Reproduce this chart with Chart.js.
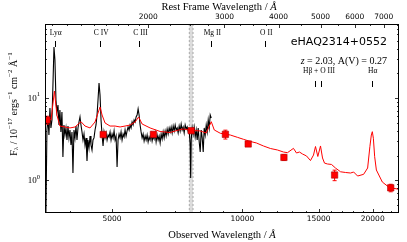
<!DOCTYPE html>
<html><head><meta charset="utf-8">
<script src="https://cdn.jsdelivr.net/npm/chart.js@4/dist/chart.umd.min.js"></script>
<style>html,body{margin:0;padding:0;background:#fff;overflow:hidden}#wrap{width:407px;height:242px}</style>
</head><body><div id="wrap"><canvas id="c" width="407" height="242"></canvas></div>
<script>
const redshift = 2.03;
const objectName = 'eHAQ2314+0552';
const extinctionAV = 0.27;

// observed spectrum (black)
const specWave = [3498,3517,3536,3555,3574,3593,3612,3632,3651,3671,
 3690,3710,3730,3750,3770,3789,3809,3830,3850,3871,
 3892,3913,3934,3955,3976,3997,4018,4040,4061,4083,
 4105,4127,4149,4171,4193,4216,4238,4261,4284,4307,
 4330,4353,4376,4399,4423,4447,4470,4494,4518,4542,
 4567,4591,4616,4640,4665,4690,4715,4741,4766,4791,
 4817,4843,4869,4895,4921,4947,4973,5000,5027,5054,
 5081,5108,5135,5162,5190,5218,5245,5273,5302,5330,
 5358,5387,5416,5445,5474,5503,5532,5562,5592,5622,
 5652,5682,5712,5743,5773,5804,5835,5866,5898,5929,
 5961,5993,6025,6057,6089,6121,6154,6187,6220,6253,
 6287,6320,6354,6388,6422,6457,6491,6526,6561,6596,
 6631,6666,6702,6738,6774,6810,6846,6883,6920,6957,
 6994,7031,7069,7106,7144,7182,7221,7259,7298,7337,
 7376,7416,7455,7495,7535,7575,7595,7616,7657,7698,7739,
 7780,7822,7863,7905,7948,7990,8033,8076,8119,8162,
 8206,8250,8294,8338,8383,8427,8473];
const specFlux = [2.34,0.38,4.10,5.74,3.56,7.60,4.34,5.43,14.5,42.0,
 29.2,9.51,6.79,8.27,4.72,7.18,3.88,6.79,1.92,4.72,
 3.56,4.34,3.10,4.59,3.28,4.10,2.69,3.88,1.23,4.10,
 3.28,4.59,3.10,4.34,5.13,5.90,4.72,3.88,3.10,3.66,
 2.69,3.28,1.72,3.10,2.47,3.46,2.69,2.34,3.10,3.28,
 4.10,4.72,6.24,9.51,15.3,10.9,5.43,3.56,2.62,3.88,
 3.28,3.77,3.10,3.56,3.37,3.88,3.10,3.66,3.28,3.99,
 3.10,3.46,1.45,3.10,3.66,3.28,3.88,3.10,3.66,3.37,
 4.10,3.46,3.99,4.46,4.10,4.72,4.34,5.13,4.72,5.43,
 5.13,5.90,6.24,7.39,6.24,4.72,3.88,3.28,3.66,3.01,
 3.46,3.10,3.56,2.93,3.37,3.10,3.66,3.01,3.46,3.18,
 3.77,2.93,3.56,3.10,3.46,2.85,3.66,3.18,3.88,3.28,
 3.99,3.46,4.22,3.66,4.34,3.88,4.46,3.77,4.59,3.99,
 4.72,4.10,4.34,3.77,4.59,3.99,4.85,4.10,4.46,3.77,
 4.72,4.22,4.46,3.88,4.10,2.69,1.07,3.10,4.34,3.66,4.46,
 3.37,4.10,3.10,4.34,2.93,2.21,4.10,3.28,2.21,4.34,
 3.56,4.72,3.88,5.43,4.34,6.24,5.74];

// model / composite (red)
const modelWave = [3510,3614,3680,3729,3789,3893,3998,4105,4239,4330,
 4447,4567,4640,4691,4741,4817,4947,5080,5218,5358,
 5503,5652,5758,5866,6121,6457,6810,7069,7298,7617,
 7990,8249,8475,8611,8891,9378,9734,10053,10432,10772,
 11182,11606,12049,12441,12710,13121,13333,13546,13771,14062,
 14363,14597,14752,14936,15151,15314,15476,15724,16063,16410,
 16856,17313,17780,18068,18457,19054,19466,19701,19852,19958,
 20068,20208,20391,21049,21618,22360,23025];
const modelFlux = [5.9,5.42,12.2,6.24,4.58,4.46,4.34,4.46,5.17,4.58,
 4.34,5.13,6.6,7.81,6.24,4.99,4.58,4.58,4.46,4.58,
 4.71,5.13,5.90,4.85,4.34,3.93,3.82,4.05,4.22,4.05,
 3.99,3.77,5.17,4.10,3.74,3.56,3.34,3.16,2.97,2.85,
 2.62,2.44,2.34,2.21,2.17,2.45,2.15,2.21,2.09,1.98,
 1.74,2.03,2.58,1.95,2.62,1.87,1.62,1.58,1.56,1.41,
 1.27,1.245,1.227,1.262,1.128,1.183,1.412,2.57,3.56,3.91,
 3.25,1.94,1.335,0.953,0.853,0.799,0.777];

// photometry (red squares)
const photWave = [3536,4770,6230,7617,9136,10314,12472,16330,22010];
const photFlux = [5.43,3.61,3.63,4.02,3.63,2.77,1.90,1.16,0.81];
const photErr  = [0.6,0.15,0.12,0.12,0.45,0.17,0.15,0.17,0.085];

// axes
const xMin = 3500, xMax = 23000;
const yMin = 0.4, yMax = 80;
const xTicks = [5000,10000,15000,20000];
const xMinorTicks = [4000,6000,7000,8000,9000,11000,12000,13000,14000,16000,17000,18000,19000,21000,22000];
const restTicks = [2000,3000,4000,5000,6000,7000];
const restMinorTicks = [1200,1300,1400,1500,1600,1700,1800,1900,2250,2500,2750,3250,3500,3750,4500,5500,6500,7500];
const yTicks = [1,10];
const yMinorTicks = [0.5,0.6,0.7,0.8,0.9,2,3,4,5,6,7,8,9,20,30,40,50,60,70];

// emission lines (rest frame, Å)
const lineLabels = ['Lyα','C IV','C III','Mg II','O II','Hβ + O III','Hα'];
const lineRest = [[1216],[1549],[1909],[2798],[3727],[4861,5007],[6563]];
const tellBand = [7540,7690];

const SERIF = '"Liberation Serif", "DejaVu Serif", serif';
function drawRich(ctx, segs, x, y, align){
  let total = 0;
  const ws = segs.map(s=>{ctx.font=(s.it?'italic ':'')+s.sz+'px '+SERIF; const w=ctx.measureText(s.t).width; total+=w; return w;});
  let cx = align==='center'? x-total/2 : align==='right'? x-total : x;
  ctx.textAlign='left'; ctx.textBaseline='middle';
  segs.forEach((s,i)=>{ctx.font=(s.it?'italic ':'')+s.sz+'px '+SERIF; ctx.fillText(s.t,cx,y+(s.dy||0)); cx+=ws[i];});
}

const decor = {
  id:'decor',
  beforeDatasetsDraw(chart){
    const {ctx, chartArea:a, scales:{x}} = chart;
    const x0 = x.getPixelForValue(tellBand[0]), x1 = x.getPixelForValue(tellBand[1]);
    ctx.save();
    ctx.fillStyle='#dcdcdc'; ctx.fillRect(x0,a.top,x1-x0,a.bottom-a.top);
    ctx.strokeStyle='#a8a8a8'; ctx.lineWidth=1; ctx.setLineDash([2,2]);
    [x0,x1].forEach(p=>{ctx.beginPath(); ctx.moveTo(p,a.top); ctx.lineTo(p,a.bottom); ctx.stroke();});
    ctx.restore();
  },
  beforeDatasetDraw(chart,args){
    if(args.index!==0) return;
    const {ctx, scales:{x,y}} = chart;
    ctx.save(); ctx.strokeStyle='#ff0000'; ctx.lineWidth=1;
    photWave.forEach((w,i)=>{
      const px=x.getPixelForValue(w);
      const t=y.getPixelForValue(photFlux[i]+photErr[i]), b=y.getPixelForValue(photFlux[i]-photErr[i]);
      ctx.beginPath(); ctx.moveTo(px,t); ctx.lineTo(px,b);
      ctx.moveTo(px-2,t); ctx.lineTo(px+2,t); ctx.moveTo(px-2,b); ctx.lineTo(px+2,b); ctx.stroke();
    });
    ctx.restore();
  },
  afterDraw(chart){
    const {ctx, chartArea:a, scales:{x,x2,y}} = chart;
    ctx.save();
    ctx.strokeStyle='#000'; ctx.lineWidth=1;
    ctx.strokeRect(a.left+0.5,a.top+0.5,a.right-a.left-1,a.bottom-a.top-1);
    ctx.lineWidth=0.8;
    const vt=(v,sc,len,top)=>{const p=Math.round(sc.getPixelForValue(v))+0.5; ctx.beginPath(); if(top){ctx.moveTo(p,a.top);ctx.lineTo(p,a.top+len);} else {ctx.moveTo(p,a.bottom);ctx.lineTo(p,a.bottom-len);} ctx.stroke();};
    xTicks.forEach(v=>vt(v,x,4,false)); xMinorTicks.forEach(v=>vt(v,x,2,false));
    restTicks.forEach(v=>vt(v,x2,4,true)); restMinorTicks.forEach(v=>vt(v,x2,2,true));
    const ht=(v,len)=>{const p=Math.round(y.getPixelForValue(v))+0.5; ctx.beginPath(); ctx.moveTo(a.left,p); ctx.lineTo(a.left+len,p); ctx.moveTo(a.right,p); ctx.lineTo(a.right-len,p); ctx.stroke();};
    yTicks.forEach(v=>ht(v,4)); yMinorTicks.forEach(v=>ht(v,2));
    ctx.fillStyle='#000';
    // y tick labels
    yTicks.forEach(v=>{
      const p=y.getPixelForValue(v);
      drawRich(ctx,[{t:'10',sz:9},{t:String(Math.round(Math.log10(v))),sz:6.5,dy:-3.5}],a.left-5,p,'right');
    });
    // axis titles
    drawRich(ctx,[{t:'Rest Frame Wavelength / ',sz:10.5},{t:'Å',sz:10.5,it:true}],(a.left+a.right)/2-3,7,'center');
    drawRich(ctx,[{t:'Observed Wavelength / ',sz:10.5},{t:'Å',sz:10.5,it:true}],(a.left+a.right)/2,235,'center');
    ctx.save(); ctx.translate(14,104); ctx.rotate(-Math.PI/2);
    drawRich(ctx,[{t:'F',sz:10},{t:'λ',sz:7,dy:2.5},{t:' / 10',sz:10},{t:'−17',sz:7,dy:-3.5},{t:' ergs',sz:10},{t:'−1',sz:7,dy:-3.5},{t:' cm',sz:10},{t:'−2',sz:7,dy:-3.5},{t:' Å',sz:10},{t:'−1',sz:7,dy:-3.5}],0,0,'center');
    ctx.restore();
    // emission line marks
    ctx.strokeStyle='#000'; ctx.lineWidth=1;
    lineLabels.forEach((lab,i)=>{
      const pos=lineRest[i].map(r=>x.getPixelForValue(r*(1+redshift)));
      const lower = lineRest[i][0] > 4500;
      const ly = a.top + (lower?47:9), m0 = a.top + (lower?57:17);
      const cx = pos.reduce((s,p)=>s+p,0)/pos.length;
      drawRich(ctx,[{t:lab,sz:7.5}],cx+1,ly,'center');
      pos.forEach(p=>{const q=Math.round(p)+0.5; ctx.beginPath(); ctx.moveTo(q,m0); ctx.lineTo(q,m0+6); ctx.stroke();});
    });
    // object annotation
    ctx.font='11px "DejaVu Sans", sans-serif'; ctx.textAlign='right'; ctx.textBaseline='middle';
    ctx.fillText(objectName,a.right-12,a.top+18);
    drawRich(ctx,[{t:'z',sz:10,it:true},{t:' = 2.03, A(V) = '+extinctionAV.toFixed(2),sz:10}],a.right-12,a.top+37,'right');
    ctx.restore();
  }
};

const tickFont = {family:'"DejaVu Sans", sans-serif', size:7.5};
new Chart(document.getElementById('c'),{
  type:'line',
  data:{datasets:[
    {label:'photometry',data:photWave.map((w,i)=>({x:w,y:photFlux[i]})),showLine:false,pointStyle:'rect',pointRadius:4.5,pointHoverRadius:4.5,backgroundColor:'#ff0000',borderColor:'#b00000',borderWidth:0.6,order:0},
    {label:'model',data:modelWave.map((w,i)=>({x:w,y:modelFlux[i]})),borderColor:'#ff0000',borderWidth:1,pointRadius:0,order:1},
    {label:'spectrum',data:specWave.map((w,i)=>({x:w,y:specFlux[i]})),borderColor:'#000000',borderWidth:1.1,pointRadius:0,order:2}
  ]},
  options:{
    responsive:false,animation:false,devicePixelRatio:1,
    layout:{padding:0},
    plugins:{legend:{display:false},tooltip:{enabled:false}},
    scales:{
      x:{type:'logarithmic',position:'bottom',min:xMin,max:xMax,
        grid:{display:false,drawTicks:false},border:{display:false},
        afterBuildTicks:s=>{s.ticks=xTicks.map(v=>({value:v}));},
        ticks:{callback:v=>String(v),font:tickFont,color:'#000',padding:2,maxRotation:0,autoSkip:false},
        afterFit:s=>{s.height=29;}},
      x2:{type:'logarithmic',position:'top',min:xMin/(1+redshift),max:xMax/(1+redshift),
        grid:{display:false,drawTicks:false},border:{display:false},
        afterBuildTicks:s=>{s.ticks=restTicks.map(v=>({value:v}));},
        ticks:{callback:v=>String(v),font:tickFont,color:'#000',padding:2,maxRotation:0,autoSkip:false},
        afterFit:s=>{s.height=24;}},
      y:{type:'logarithmic',position:'left',min:yMin,max:yMax,
        grid:{display:false,drawTicks:false},border:{display:false},ticks:{display:false},
        afterFit:s=>{s.width=45;}},
      y2:{type:'logarithmic',position:'right',min:yMin,max:yMax,
        grid:{display:false,drawTicks:false},border:{display:false},ticks:{display:false},
        afterFit:s=>{s.width=8;}}
    }
  },
  plugins:[decor]
});
</script></body></html>
